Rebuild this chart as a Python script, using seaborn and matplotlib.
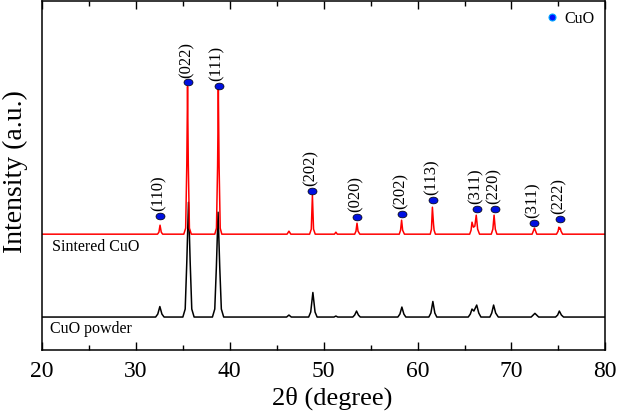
import numpy as np
import pandas as pd
import matplotlib
matplotlib.use('Agg')
import matplotlib.pyplot as plt
from matplotlib.path import Path
from matplotlib.transforms import Affine2D
from matplotlib.ticker import MultipleLocator
from matplotlib.lines import Line2D
import seaborn as sns

sns.set_style(
    {
        "axes.edgecolor": "0",
        "xtick.color": "black",
        "ytick.color": "black",
        "xtick.direction": "in",
        "ytick.direction": "in",
        "text.color": "black",
        "axes.facecolor": "white",
        "axes.grid": False,
    }
)
plt.rcParams['font.family'] = ['Liberation Serif', 'DejaVu Serif']

# sintered CuO pattern (vertices, intensity above baseline)
sint_2theta = [20.0, 32.3, 32.45, 32.57, 32.7, 32.85,
               35.1, 35.3, 35.42, 35.5, 35.58, 35.7, 35.9,
               38.4, 38.58, 38.7, 38.78, 38.86, 38.98, 39.15,
               46.1, 46.3, 46.5,
               48.5, 48.68, 48.8, 48.92, 49.1,
               51.15, 51.3, 51.45,
               53.3, 53.44, 53.55, 53.66, 53.85,
               58.05, 58.19, 58.3, 58.41, 58.6,
               61.35, 61.48, 61.58, 61.7, 61.76, 61.9,
               65.55, 65.7, 65.8, 65.95, 66.1, 66.25, 66.4, 66.6,
               67.85, 68.02, 68.15, 68.28, 68.45,
               72.2, 72.45, 72.7,
               74.8, 74.97, 75.05, 75.12, 75.2, 75.28, 75.45,
               80.0]
sint_int = [0, 0, 2, 9, 2, 0,
            0, 6, 70, 148, 70, 6, 0,
            0, 6, 68, 145, 68, 6, 0,
            0, 3, 0,
            0, 5, 39, 5, 0,
            0, 2, 0,
            0, 3, 11, 3, 0,
            0, 4, 14, 4, 0,
            0, 5, 27, 10, 4, 0,
            0, 4, 12, 7, 8, 19, 5, 0,
            0, 5, 19, 5, 0,
            0, 6, 0,
            0, 3, 7, 5, 6, 3, 0,
            0]

# CuO powder pattern
powd_2theta = [20.0, 32.1, 32.33, 32.55, 32.77, 33.0,
               35.0, 35.25, 35.42, 35.6, 35.78, 35.95, 36.2,
               38.15, 38.4, 38.57, 38.75, 38.93, 39.1, 39.35,
               46.05, 46.3, 46.55,
               48.4, 48.62, 48.85, 49.08, 49.3,
               51.1, 51.3, 51.5,
               53.1, 53.3, 53.5, 53.7, 53.9,
               57.9, 58.12, 58.33, 58.54, 58.75,
               61.2, 61.42, 61.63, 61.84, 62.05,
               65.4, 65.62, 65.8, 66.0, 66.3, 66.52, 66.75,
               67.7, 67.9, 68.1, 68.32, 68.6,
               72.1, 72.5, 72.9,
               74.7, 74.92, 75.1, 75.32, 75.55,
               80.0]
powd_int = [0, 0, 3, 10.5, 3, 0,
            0, 8, 55, 115, 55, 8, 0,
            0, 8, 50, 105, 50, 8, 0,
            0, 2, 0,
            0, 5, 24.6, 5, 0,
            0, 1, 0,
            0, 2, 6, 2, 0,
            0, 3, 10, 3, 0,
            0, 4, 15.6, 4, 0,
            0, 3, 8, 6, 12, 4, 0,
            0, 4, 12, 4, 0,
            0, 3.7, 0,
            0, 2, 6, 2, 0,
            0]

sint_offset = 116
powd_offset = 33

# CuO reflections marked on the sintered pattern
peak_2theta = [32.6, 35.5, 38.8, 48.8, 53.55, 58.3, 61.6, 66.3, 68.2, 72.4, 75.2]
peak_mark_y = [134, 268, 264.3, 159.3, 133, 136.7, 150.7, 141, 141, 127.3, 131]
peak_hkl = ['(110)', '(022)', '(111)', '(202)', '(020)', '(202)', '(113)',
            '(311)', '(220)', '(311)', '(222)']

sint = pd.DataFrame({'2theta': sint_2theta, 'I': np.array(sint_int) + sint_offset})
powd = pd.DataFrame({'2theta': powd_2theta, 'I': np.array(powd_int) + powd_offset})
marks = pd.DataFrame({'2theta': peak_2theta, 'y': peak_mark_y})

fig = plt.figure(figsize=(6.18, 4.17), dpi=100)
ax = fig.add_axes([0.068, 0.1607, 0.9115, 0.838])

sns.lineplot(data=powd, x='2theta', y='I', color='black', lw=1.1, ax=ax, sort=False)
sns.lineplot(data=sint, x='2theta', y='I', color='red', lw=1.1, ax=ax, sort=False)

ellipse = Path.unit_circle().transformed(Affine2D().scale(1.0, 0.75))
sns.scatterplot(data=marks, x='2theta', y='y', marker=ellipse, s=42, color='#0010e0',
                edgecolor='black', linewidth=0.5, ax=ax, zorder=5, legend=False)

for x, y, hkl in zip(peak_2theta, peak_mark_y, peak_hkl):
    ax.annotate(hkl, (x, y), xytext=(-1, 3.5), textcoords='offset points',
                rotation=90, ha='center', va='bottom', fontsize=12)

ax.text(21.05, 103, 'Sintered CuO', fontsize=11.5, va='center', ha='left')
ax.text(20.85, 21, 'CuO powder', fontsize=11.5, va='center', ha='left')

ax.set_xlim(20, 80)
ax.set_ylim(0, 350)
ax.set_yticks([])
ax.xaxis.set_major_locator(MultipleLocator(10))
ax.xaxis.set_minor_locator(MultipleLocator(5))
ax.tick_params(axis='x', which='both', top=True, bottom=True, direction='in')
ax.tick_params(axis='x', which='major', length=6, width=1, labelsize=17, pad=8)
ax.tick_params(axis='x', which='minor', length=3.5, width=1)
for s in ax.spines.values():
    s.set_linewidth(1.1)
    s.set_visible(True)

ax.set_xlabel('2θ (degree)', fontsize=19)
ax.xaxis.set_label_coords(0.515, -0.105)
ax.set_ylabel('Intensity (a.u.)', fontsize=20)
ax.yaxis.set_label_coords(-0.025, 0.51)

cuo_handle = Line2D([], [], ls='none', marker='o', markersize=5, color='#0010ff',
                    markeredgecolor='#00a8ff', markeredgewidth=0.8)
ax.legend([cuo_handle], ['CuO'], loc='upper right', frameon=False, fontsize=11.5,
          handletextpad=0.3, handlelength=1.0, borderaxespad=0.25)

fig.savefig('out.png', dpi=100)
